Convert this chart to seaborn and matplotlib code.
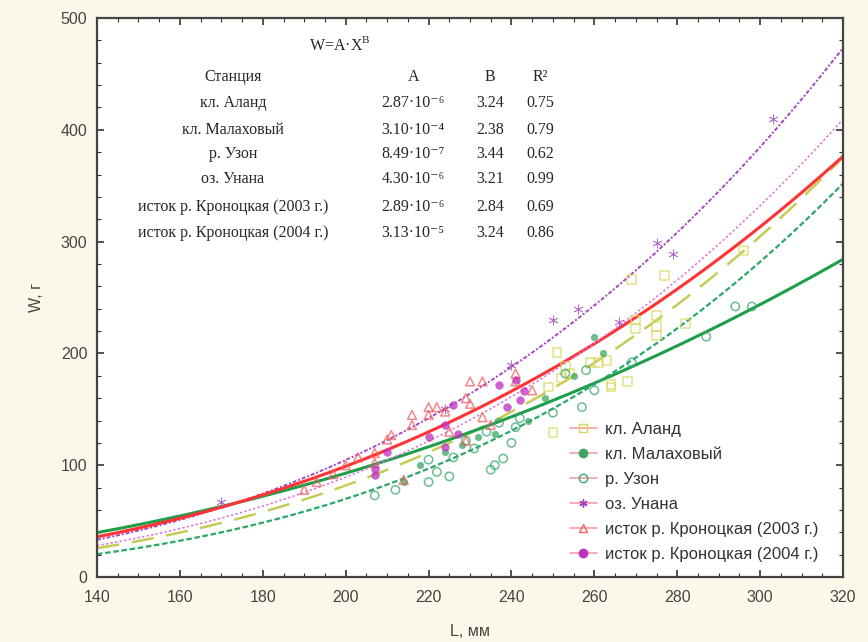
import numpy as np
import pandas as pd
import seaborn as sns
import matplotlib.pyplot as plt
from matplotlib.lines import Line2D
from matplotlib.ticker import MultipleLocator

# станции и параметры аппроксимации W = A * L^B
stations = ["кл. Аланд", "кл. Малаховый", "р. Узон", "оз. Унана",
            "исток р. Кроноцкая (2003 г.)", "исток р. Кроноцкая (2004 г.)"]
A_text = ["2.87·10⁻⁶", "3.10·10⁻⁴", "8.49·10⁻⁷", "4.30·10⁻⁶",
          "2.89·10⁻⁶", "3.13·10⁻⁵"]
B_text = ["3.24", "2.38", "3.44", "3.21", "2.84", "3.24"]
R2_text = ["0.75", "0.79", "0.62", "0.99", "0.69", "0.86"]
# коэффициенты, по которым нарисованы кривые
A_fit = [2.87e-6, 3.10e-4, 8.49e-7, 4.30e-6, 2.89e-5, 3.13e-6]
B_fit = [3.24, 2.38, 3.44, 3.21, 2.84, 3.24]

aland_L = [249, 250, 251, 252, 253, 254, 258, 259, 261, 263, 264, 264, 268, 269,
           270, 270, 275, 275, 275, 277, 282, 296]
aland_W = [170, 129, 201, 178, 188, 182, 136, 192, 192, 194, 170, 172, 175, 266,
           230, 222, 234, 224, 216, 270, 227, 292]
malakh_L = [214, 218, 224, 228, 232, 236, 244, 248, 255, 260, 262]
malakh_W = [85, 100, 112, 118, 125, 128, 140, 160, 180, 215, 200]
uzon_L = [207, 212, 220, 220, 222, 225, 226, 229, 231, 234, 235, 236, 237, 238,
          240, 241, 242, 250, 253, 257, 258, 260, 269, 287, 294, 298]
uzon_W = [73, 78, 85, 105, 94, 90, 107, 122, 115, 130, 96, 100, 138, 106,
          120, 134, 142, 147, 182, 152, 185, 167, 192, 215, 242, 242]
unana_L = [170, 224, 240, 250, 256, 266, 275, 279, 303]
unana_W = [67, 150, 190, 230, 240, 228, 299, 289, 410]
kr03_L = [190, 193, 197, 200, 203, 207, 207, 210, 211, 214, 216, 216, 220, 220,
          222, 224, 225, 229, 229, 230, 230, 233, 233, 235, 241, 241, 245]
kr03_W = [78, 85, 92, 100, 107, 111, 102, 123, 127, 87, 136, 145, 152, 145,
          152, 148, 130, 122, 160, 155, 175, 175, 143, 136, 182, 175, 167]
kr04_L = [207, 207, 210, 220, 224, 224, 226, 227, 237, 239, 241, 242, 243]
kr04_W = [97, 91, 112, 125, 136, 116, 154, 128, 172, 152, 176, 158, 166]

pts_L = [aland_L, malakh_L, uzon_L, unana_L, kr03_L, kr04_L]
pts_W = [aland_W, malakh_W, uzon_W, unana_W, kr03_W, kr04_W]

colors = ["#c4cc55", "#1f9e4a", "#2aa868", "#a844c4", "#ff3333", "#dd70d8"]
mcolors = ["#d8d860", "#3aa860", "#3aa870", "#a040c0", "#f06060", "#c030c0"]
markers = ["s", "o", "o", (6, 2, 0), "^", "o"]
filled = [False, True, False, True, False, True]
msize = [40, 22, 36, 45, 40, 30]
dashes = [(9, 5), "", (2.5, 1.2), (2, 1, 1, 1), "", (1.5, 1.5)]
widths = [1.8, 2.2, 1.6, 1.4, 2.2, 1.1]

sns.set_style("ticks")
plt.rcParams["font.family"] = ["Liberation Sans", "DejaVu Sans"]
plt.rcParams["mathtext.fontset"] = "custom"
plt.rcParams["mathtext.rm"] = "Liberation Serif"

fig = plt.figure(figsize=(8.68, 6.42), dpi=100, facecolor="#fbf8ea")
ax = fig.add_axes([0.1118, 0.1012, 0.8594, 0.8707])
ax.set_facecolor("white")

L_grid = np.linspace(140, 320, 200)
for i, st in enumerate(stations):
    curve = pd.DataFrame({"L": L_grid, "W": A_fit[i] * L_grid ** B_fit[i]})
    kw = dict(color=colors[i], lw=widths[i])
    if dashes[i]:
        kw["dashes"] = dashes[i]
    sns.lineplot(data=curve, x="L", y="W", ax=ax, **kw)

for i, st in enumerate(stations):
    df = pd.DataFrame({"L": pts_L[i], "W": pts_W[i]})
    if filled[i]:
        sns.scatterplot(data=df, x="L", y="W", ax=ax, marker=markers[i], s=msize[i],
                        color=mcolors[i], edgecolor=mcolors[i], alpha=0.75, zorder=3)
    else:
        sns.scatterplot(data=df, x="L", y="W", ax=ax, marker=markers[i], s=msize[i],
                        facecolor="none", edgecolor=mcolors[i], linewidth=1.1,
                        alpha=0.75, zorder=3)

ax.set_xlim(140, 320)
ax.set_ylim(0, 500)
ax.xaxis.set_major_locator(MultipleLocator(20))
ax.xaxis.set_minor_locator(MultipleLocator(5))
ax.yaxis.set_major_locator(MultipleLocator(100))
ax.yaxis.set_minor_locator(MultipleLocator(20))
ax.tick_params(which="both", direction="in", top=True, right=True, color="#333333",
               labelsize=11.5, labelcolor="#444444")
ax.tick_params(which="major", length=5, width=1.2)
ax.tick_params(which="minor", length=3, width=0.8)
ax.tick_params(axis="x", which="major", pad=9)
ax.tick_params(axis="y", which="major", pad=7)
for sp in ax.spines.values():
    sp.set_color("#444444")
    sp.set_linewidth(1.6)
ax.set_xlabel("L, мм", fontsize=11.5, color="#444444", labelpad=14)
ax.set_ylabel("W, г", fontsize=11.5, color="#444444", labelpad=12)

# таблица с параметрами
serif = ["Liberation Serif", "DejaVu Serif"]
fs = 11.5
ax.text(198.6, 476, r"W=A·X$^{\mathrm{B}}$", fontsize=fs, family=serif, ha="center", va="center")
hdr_y = 447
ax.text(172.8, hdr_y, "Станция", fontsize=fs, family=serif, ha="center", va="center")
ax.text(216.3, hdr_y, "A", fontsize=fs, family=serif, ha="center", va="center")
ax.text(234.8, hdr_y, "B", fontsize=fs, family=serif, ha="center", va="center")
ax.text(246.9, hdr_y, "R²", fontsize=fs, family=serif, ha="center", va="center")
row_y = [424, 400, 378, 356, 331, 308]
for i, st in enumerate(stations):
    ax.text(172.8, row_y[i], st, fontsize=fs, family=serif, ha="center", va="center")
    ax.text(216.3, row_y[i], A_text[i], fontsize=fs, family=serif, ha="center", va="center")
    ax.text(234.8, row_y[i], B_text[i], fontsize=fs, family=serif, ha="center", va="center")
    ax.text(246.9, row_y[i], R2_text[i], fontsize=fs, family=serif, ha="center", va="center")

handles = []
for i, st in enumerate(stations):
    handles.append(Line2D([], [], color="#f4a0a0", lw=1.2, marker=markers[i],
                          markersize=6, markerfacecolor=mcolors[i] if filled[i] else "none",
                          markeredgecolor=mcolors[i], label=st))
leg = ax.legend(handles=handles, loc="upper left", bbox_to_anchor=(0.625, 0.29),
                frameon=True, fontsize=12, labelspacing=0.6, handlelength=1.6,
                handletextpad=0.5, borderaxespad=0)
leg.get_frame().set_facecolor("white")
leg.get_frame().set_edgecolor("white")
for t in leg.get_texts():
    t.set_color("#333333")

fig.savefig("out.png", dpi=100, facecolor=fig.get_facecolor())
